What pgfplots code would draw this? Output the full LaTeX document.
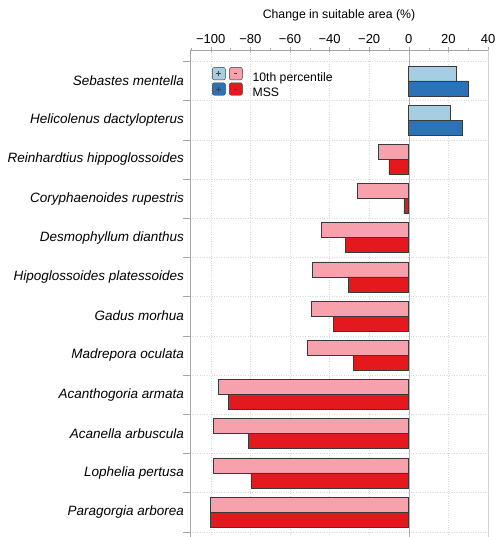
\documentclass[border=0pt]{standalone}
\usepackage{pgfplots}
\pgfplotsset{compat=1.18}
\usepackage{fontspec}
\setmainfont{Liberation Sans}

\definecolor{lblue}{HTML}{A6CEE3}
\definecolor{dblue}{HTML}{2B73B6}
\definecolor{lpink}{HTML}{F7A1AC}
\definecolor{dred}{HTML}{E3191E}
\definecolor{edge}{HTML}{3A3A3A}

\begin{document}
\begin{tikzpicture}
\begin{axis}[
    scale only axis,
    width=298pt, height=487pt,
    xmin=-110.5, xmax=40,
    ymin=0.367, ymax=12.79,
    xbar, bar width=15pt,
    axis line style={gray!35},
    xtick={-100,-80,...,40},
    xticklabels={−100,−80,−60,−40,−20,0,20,40},
    minor xtick={-110,-90,...,30},
    xtick pos=right, xticklabel pos=right,
    x tick label style={font=\fontsize{13}{13}\selectfont},
    xlabel={Change in suitable area (\%)},
    xlabel style={font=\fontsize{12.3}{13}\selectfont, yshift=2pt},
    ytick={1,...,12},
    yticklabels={Paragorgia arborea, Lophelia pertusa, Acanella arbuscula,
      Acanthogoria armata, Madrepora oculata, Gadus morhua,
      Hipoglossoides platessoides, Desmophyllum dianthus,
      Coryphaenoides rupestris, Reinhardtius hippoglossoides,
      Helicolenus dactylopterus, Sebastes mentella},
    ytick pos=left, yticklabel pos=left,
    major y tick style={draw=none},
    y tick label style={font=\fontsize{13.5}{14}\selectfont\itshape},
    tick align=center,
    major tick length=5pt, minor tick length=3pt,
    tick style={gray!70},
    xmajorgrids,
    major x grid style={dotted, gray!30, line width=0.5pt},
    extra y ticks={0.5,1.5,...,12.5},
    extra y tick labels={},
    extra y tick style={ymajorgrids, major y grid style={dotted, gray!30, line width=0.5pt},
      major tick length=7pt, tick align=outside, major y tick style={draw=gray!70}},
    extra x ticks={0},
    extra x tick labels={},
    extra x tick style={xmajorgrids, major x grid style={solid, gray!60}},
    legend style={at={(rel axis cs:0,1)}, anchor=north west, xshift=22pt, yshift=-17pt,
      draw=none, fill=none, inner sep=0pt, row sep=-1.5pt,
      font=\fontsize{12.2}{13}\selectfont,
      nodes={inner sep=1pt},
      /tikz/every odd column/.append style={column sep=9pt}},
    legend cell align=left,
]
% 10th percentile (upper bar of each pair)
\addplot[forget plot, bar shift=7.5pt, fill=lblue, draw=edge, line width=0.6pt]
  coordinates {(24,12) (21,11)};
\addplot[forget plot, bar shift=7.5pt, fill=lpink, draw=edge, line width=0.6pt]
  coordinates {(-15.5,10) (-26,9) (-44,8) (-48.5,7) (-49,6) (-51.5,5)
               (-96,4) (-98.5,3) (-98.5,2) (-100,1)};
% MSS (lower bar of each pair)
\addplot[forget plot, bar shift=-7.5pt, fill=dblue, draw=edge, line width=0.6pt]
  coordinates {(30,12) (27,11)};
\addplot[forget plot, bar shift=-7.5pt, fill=dred, draw=edge, line width=0.6pt]
  coordinates {(-10,10) (-2.5,9) (-32,8) (-30.5,7) (-38,6) (-28,5)
               (-91,4) (-81,3) (-79.5,2) (-100,1)};

\addlegendimage{legend image code/.code={
  \draw[draw=edge, fill=lblue, rounded corners=2pt] (0pt,-2pt) rectangle (13pt,10.5pt);
  \draw[black!75, line width=0.8pt] (4pt,4.25pt) -- (9pt,4.25pt) (6.5pt,1.75pt) -- (6.5pt,6.75pt);
  \draw[draw=edge, fill=lpink, rounded corners=2pt] (17pt,-2pt) rectangle (30pt,10.5pt);
  \draw[black!75, line width=0.8pt] (22pt,4.25pt) -- (25pt,4.25pt);
}}
\addlegendentry{10th percentile}
\addlegendimage{legend image code/.code={
  \draw[draw=edge, fill=dblue, rounded corners=2pt] (0pt,-2pt) rectangle (13pt,10.5pt);
  \draw[black!75, line width=0.8pt] (4pt,4.25pt) -- (9pt,4.25pt) (6.5pt,1.75pt) -- (6.5pt,6.75pt);
  \draw[draw=edge, fill=dred, rounded corners=2pt] (17pt,-2pt) rectangle (30pt,10.5pt);
  \draw[black!75, line width=0.8pt] (22pt,4.25pt) -- (25pt,4.25pt);
}}
\addlegendentry{MSS}

\coordinate (o) at (rel axis cs:0,0);
\draw[gray!70] (rel axis cs:0,0) -- (rel axis cs:0,1) -- (rel axis cs:1,1);
\end{axis}
\pgfresetboundingbox
\useasboundingbox ([xshift=-190pt]o) rectangle ([xshift=306pt,yshift=537pt]o);
\end{tikzpicture}
\end{document}
